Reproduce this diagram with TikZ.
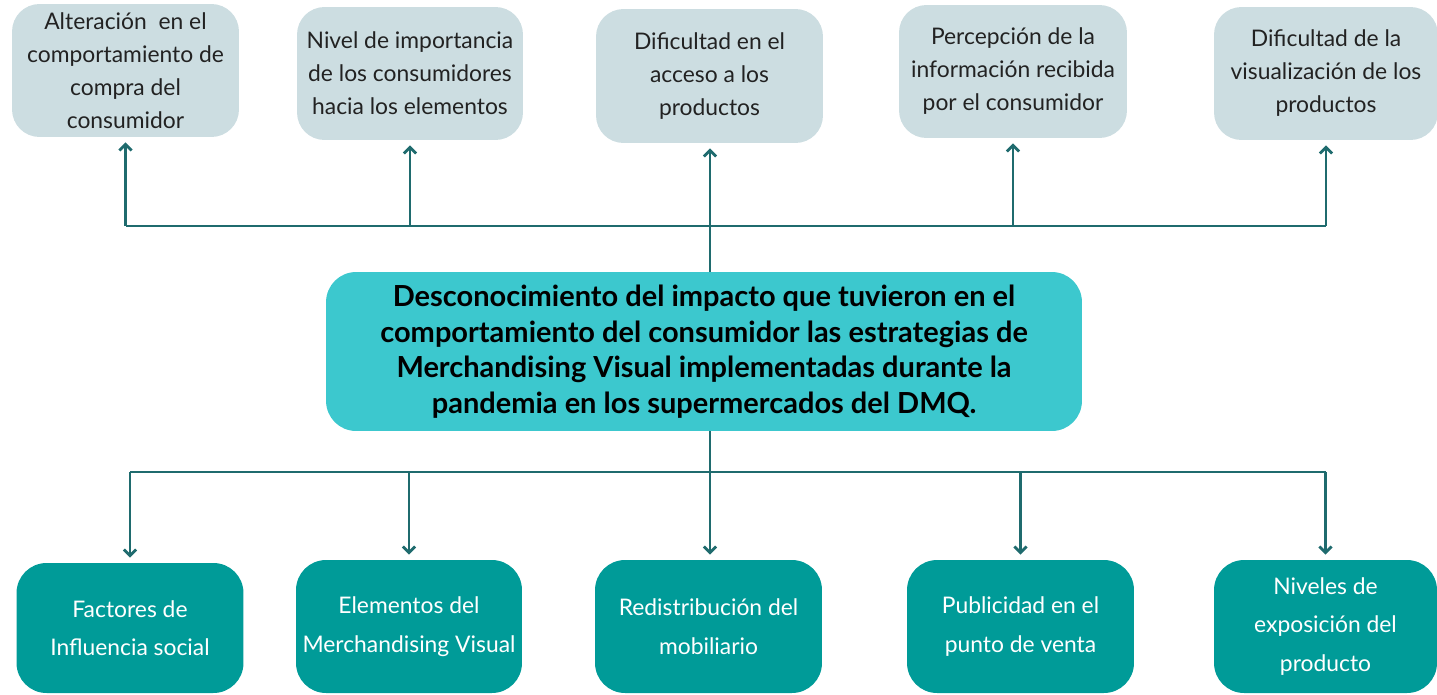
\documentclass[tikz,border=0pt]{standalone}
\usepackage{fontspec}
\setmainfont{Lato}
\usetikzlibrary{arrows.meta}
\definecolor{topfill}{HTML}{CCDDE1}
\definecolor{midfill}{HTML}{3CC8CE}
\definecolor{botfill}{HTML}{009B98}
\definecolor{linec}{HTML}{1F6B6E}
\definecolor{txt}{HTML}{222222}
\begin{document}
\begin{tikzpicture}[x=0.02cm,y=-0.02cm,
  topbox/.style={rectangle, fill=topfill, rounded corners=0.55cm, minimum width=4.54cm, minimum height=2.66cm, align=center, text=txt, inner sep=0pt, font=\fontsize{13}{18.8}\selectfont},
  midbox/.style={rectangle, fill=midfill, rounded corners=0.6cm, minimum width=15.12cm, minimum height=3.18cm, align=center, text=black, inner sep=0pt, font=\fontsize{16.5}{20.2}\selectfont\bfseries},
  botbox/.style={rectangle, fill=botfill, rounded corners=0.6cm, minimum width=4.54cm, minimum height=2.66cm, align=center, text=white, inner sep=0pt, font=\fontsize{13}{22}\selectfont},
  conn/.style={draw=linec, line width=1.6pt},
  arr/.style={conn, -{Straight Barb[length=3.5pt,width=7pt]}, shorten >=0.1cm}]
\useasboundingbox (0,0) rectangle (1437,694);
% top boxes
\node[topbox] (T1) at (125.5,70.5) {Alteración~ en el\\comportamiento de\\compra del\\consumidor};
\node[topbox, minimum width=4.52cm] (T2) at (410,73.5) {Nivel de importancia\\de los consumidores\\hacia los elementos};
\node[topbox, minimum height=2.68cm] (T3) at (709.5,76) {Dificultad en el\\acceso a los\\productos};
\node[topbox, minimum width=4.56cm] (T4) at (1013,71.5) {Percepción de la\\información recibida\\por el consumidor};
\node[topbox, minimum width=4.48cm] (T5) at (1326,73.5) {Dificultad de la\\visualización de los\\productos};
% center box
\node[midbox] (C) at (704,351.5) {Desconocimiento del impacto que tuvieron en el\\comportamiento del consumidor las estrategias de\\Merchandising Visual implementadas durante la\\pandemia en los supermercados del DMQ.};
% bottom boxes
\node[botbox, minimum height=2.6cm] (B1) at (130,628) {Factores de\\Influencia social};
\node[botbox, minimum width=4.52cm] (B2) at (409,626.5) {Elementos del\\Merchandising Visual};
\node[botbox] (B3) at (708.5,626.5) {Redistribución del\\mobiliario};
\node[botbox] (B4) at (1020.5,626.5) {Publicidad en el\\punto de venta};
\node[botbox, minimum width=4.46cm] (B5) at (1325.5,626.5) {Niveles de\\exposición del\\producto};
% junctions
\coordinate (jt) at (710,226);
\coordinate (jb) at (710,472);
% top connectors
\draw[conn] (T1.south |- jt) -- (T5.south |- jt);
\foreach \n in {T1,T2,T4,T5} \draw[arr] (\n.south |- jt) -- (\n.south);
\draw[arr] (C.north -| jt) -- (T3.south -| jt);
% bottom connectors
\draw[conn] (B1.north |- jb) -- (B5.north |- jb);
\foreach \n in {B1,B2,B4,B5} \draw[arr] (\n.north |- jb) -- (\n.north);
\draw[arr] (C.south -| jb) -- (B3.north -| jb);
\end{tikzpicture}
\end{document}
